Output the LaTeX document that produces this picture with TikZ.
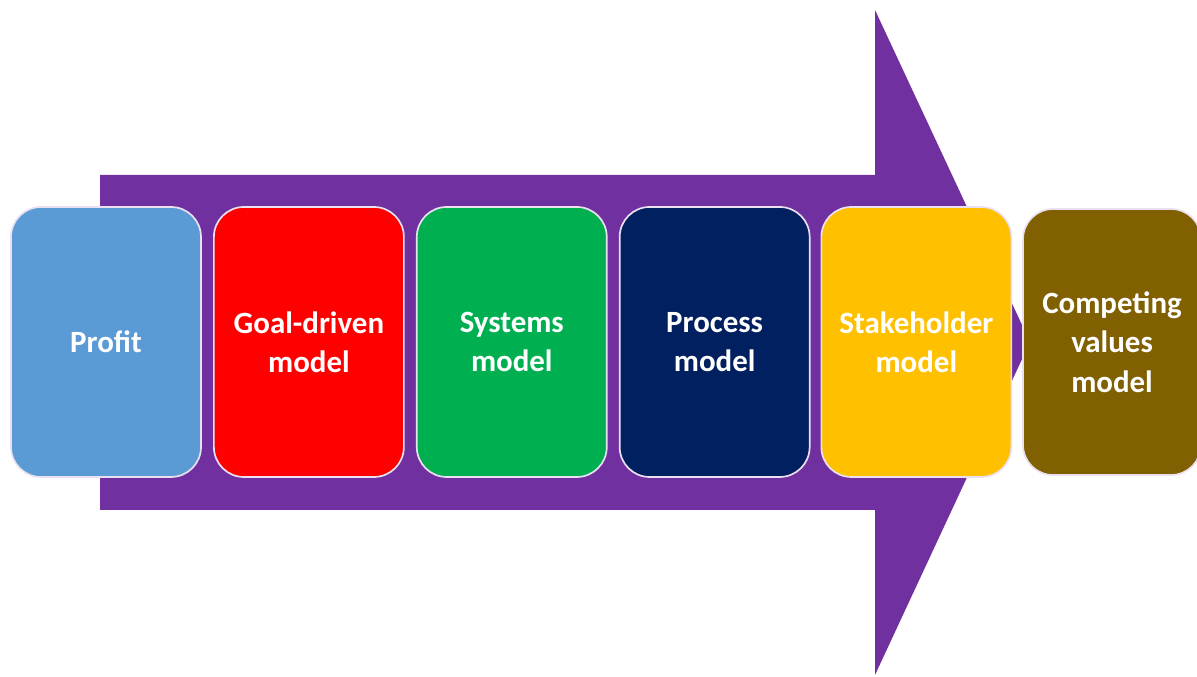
\documentclass[tikz,border=0pt]{standalone}
\usepackage{fontspec}
\setmainfont{Carlito}
\usepackage{tikz}
\usetikzlibrary{positioning}
\usepackage{xcolor}
\definecolor{arrowpurple}{RGB}{112,48,160}
\definecolor{profitblue}{RGB}{91,155,213}
\definecolor{goalred}{RGB}{255,0,0}
\definecolor{sysgreen}{RGB}{0,176,80}
\definecolor{procnavy}{RGB}{0,32,96}
\definecolor{stakeyellow}{RGB}{255,192,0}
\definecolor{compbrown}{RGB}{128,96,0}
\tikzstyle{model} = [rectangle, rounded corners=0.75cm, draw=white!85!arrowpurple, line width=1.2pt,
  minimum width=4.75cm, minimum height=6.75cm, align=center, text=white,
  font=\fontsize{22}{28}\selectfont\bfseries]

\begin{document}
\begin{tikzpicture}
\useasboundingbox (0,0) rectangle (29.925,16.925);
% Big arrow
\fill[arrowpurple] (2.5,12.55) -- (21.875,12.55) -- (21.875,16.675) -- (25.75,8.375)
  -- (21.875,0.05) -- (21.875,4.175) -- (2.5,4.175) -- cycle;

% Models
\node[model, fill=profitblue] (profit) at (2.65,8.375) {Profit};
\node[model, fill=goalred, right=0.28cm of profit] (goal) {Goal-driven\\model};
\node[model, fill=sysgreen, right=0.28cm of goal] (systems) {Systems\\model};
\node[model, fill=procnavy, right=0.28cm of systems] (process) {Process\\model};
\node[model, fill=stakeyellow, right=0.25cm of process] (stake) {Stakeholder\\model};
\node[model, fill=compbrown, minimum width=4.45cm, minimum height=6.65cm,
  right=0.25cm of stake] (competing) {Competing\\values\\model};
\end{tikzpicture}
\end{document}
